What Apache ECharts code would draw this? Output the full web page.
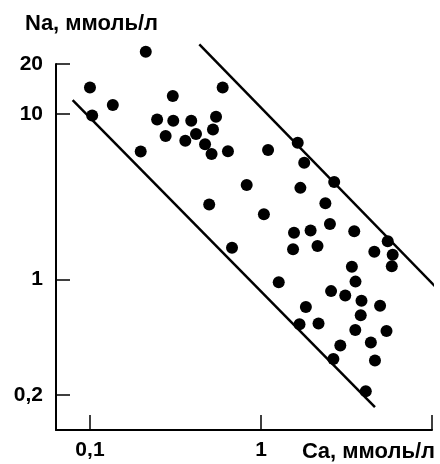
<!DOCTYPE html>
<html>
<head>
<meta charset="utf-8">
<script src="https://cdn.jsdelivr.net/npm/echarts@6/dist/echarts.min.js"></script>
<style>html,body{margin:0;padding:0;background:#fff}#c{width:440px;height:464px}</style>
</head>
<body>
<div id="c"></div>
<script>
// Ca (x), Na (y), mmol/l
const caValues = [0.212,0.100,0.136,0.103,0.305,0.247,0.307,0.391,0.546,0.277,0.361,0.417,0.524,0.471,0.514,0.641,0.597,0.198,0.498,1.10,1.64,1.79,0.825,1.70,2.68,1.04,2.38,2.53,1.56,1.95,3.51,5.51,0.677,1.54,2.14,4.60,5.89,5.82,3.40,1.27,3.57,2.57,3.11,3.87,1.83,4.97,3.83,1.68,2.17,3.56,5.42,2.91,4.39,2.65,4.64,4.10];
const naValues = [23.7,14.4,11.3,9.77,12.8,9.24,9.07,9.07,9.59,7.34,6.88,7.55,8.04,6.55,5.72,5.94,14.4,5.93,2.83,6.04,6.69,5.07,3.72,3.57,3.87,2.47,2.88,2.16,1.91,1.97,1.95,1.70,1.55,1.52,1.59,1.47,1.41,1.20,1.19,0.959,0.969,0.849,0.799,0.743,0.680,0.692,0.607,0.536,0.542,0.495,0.488,0.398,0.416,0.330,0.323,0.211];
const lowerLineCa = [0.0792, 4.64];
const lowerLineNa = [12.1, 0.169];
const upperLineCa = [0.436, 10.84];
const upperLineNa = [26.3, 0.870];
const xTicks = [0.1, 1, 10];
const xLabels = [0.1, 1];
const yTicks = [0.2, 1, 10, 20];
const xName = 'Ca, ммоль/л';
const yName = 'Na, ммоль/л';

const font = 'Liberation Sans, Arial, sans-serif';
const fmt = v => String(+(+v).toPrecision(6)).replace('.', ',');
const pts = caValues.map((c, i) => [c, naValues[i]]);
const lineStyle = { color: '#000', width: 2.5, opacity: 1 };

const chart = echarts.init(document.getElementById('c'), null, { renderer: 'canvas' });
chart.setOption({
  animation: false,
  backgroundColor: '#fff',
  grid: { left: 56, right: 8, top: 64, bottom: 34, containLabel: false },
  xAxis: {
    type: 'log', logBase: 10, min: 0.0633, max: 10,
    name: xName, nameLocation: 'end', nameGap: 3,
    nameTextStyle: { color: '#000', fontFamily: font, fontSize: 22, fontWeight: 'bold', align: 'right', verticalAlign: 'top', padding: [11, 0, 0, 0] },
    axisLine: { show: true, lineStyle: { color: '#000', width: 2 } },
    axisTick: { show: true, inside: true, length: 15, customValues: xTicks, lineStyle: { color: '#000', width: 1.5 } },
    axisLabel: { show: true, margin: 10, customValues: xLabels, formatter: fmt, color: '#000', fontFamily: font, fontSize: 21, fontWeight: 'bold' },
    splitLine: { show: false }, minorTick: { show: false }
  },
  yAxis: {
    type: 'log', logBase: 10, min: 0.123, max: 20,
    axisLine: { show: true, lineStyle: { color: '#000', width: 2 } },
    axisTick: { show: true, inside: true, length: 14, customValues: yTicks, lineStyle: { color: '#000', width: 1.5 } },
    axisLabel: { show: true, margin: 13, customValues: yTicks, formatter: fmt, color: '#000', fontFamily: font, fontSize: 21, fontWeight: 'bold' },
    splitLine: { show: false }, minorTick: { show: false }
  },
  graphic: [{
    type: 'text', left: 25, top: 13,
    style: { text: yName, fill: '#000', font: 'bold 22px ' + font }
  }],
  series: [
    { type: 'line', data: lowerLineCa.map((c, i) => [c, lowerLineNa[i]]), showSymbol: false, symbol: 'none', clip: false, lineStyle, silent: true },
    { type: 'line', data: upperLineCa.map((c, i) => [c, upperLineNa[i]]), showSymbol: false, symbol: 'none', clip: false, lineStyle, silent: true },
    { type: 'scatter', data: pts, symbol: 'circle', symbolSize: 12, clip: false, itemStyle: { color: '#000', opacity: 1 } }
  ]
});
</script>
</body>
</html>
